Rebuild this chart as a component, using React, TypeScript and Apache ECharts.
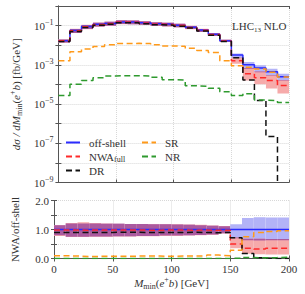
import React, { useEffect, useRef } from "react";
import * as echarts from "echarts";

// ---- data (10 GeV bins, left edges) ----
const binEdges = [0, 10, 20, 30, 40, 50, 60, 70, 80, 90, 100, 110, 120, 130, 140, 150, 160, 170, 180, 190];
const binWidth = 10;
const offShell = [0.017, 0.056, 0.089, 0.117, 0.13, 0.155, 0.153, 0.14, 0.125, 0.117, 0.105, 0.083, 0.059, 0.036, 0.017, 0.0032, 0.001, 0.00068, 0.00045, 0.00025];
const nwaFull = [0.0167, 0.055, 0.087, 0.115, 0.128, 0.152, 0.15, 0.137, 0.122, 0.115, 0.103, 0.081, 0.058, 0.035, 0.0166, 0.0016, 0.00035, 0.00022, 0.00016, 0.000088];
const dr = [0.0153, 0.05, 0.08, 0.105, 0.117, 0.14, 0.138, 0.126, 0.112, 0.105, 0.094, 0.075, 0.053, 0.032, 0.0153, 0.0023, 0.00017, 0.000015, 0.00000022, 1e-12];
const sr = [0.0016, 0.0047, 0.0064, 0.0086, 0.0105, 0.0122, 0.0125, 0.0122, 0.0105, 0.0092, 0.0088, 0.0071, 0.0054, 0.0042, 0.0016, 0.0009, 0.00075, 0.00061, 0.00042, 0.00024];
const nr = [2.7e-5, 1.02e-4, 1.6e-4, 2.2e-4, 2.7e-4, 2.8e-4, 2.8e-4, 2.7e-4, 2.3e-4, 1.75e-4, 1.65e-4, 8.5e-5, 8.0e-5, 6.4e-5, 4.3e-5, 2.7e-5, 3.4e-5, 1.6e-5, 1.5e-5, 1.2e-5];
// uncertainty bands, as ratio to off-shell
const offBandLo = [0.8, 0.75, 0.75, 0.76, 0.76, 0.77, 0.77, 0.78, 0.78, 0.79, 0.79, 0.8, 0.81, 0.83, 0.87, 0.7, 0.63, 0.62, 0.63, 0.63];
const offBandHi = [1.15, 1.21, 1.21, 1.21, 1.2, 1.2, 1.19, 1.19, 1.18, 1.18, 1.17, 1.16, 1.15, 1.13, 1.11, 1.18, 1.4, 1.42, 1.41, 1.41];
const nwaBandLo = [0.78, 0.74, 0.74, 0.75, 0.75, 0.76, 0.76, 0.77, 0.77, 0.78, 0.78, 0.79, 0.8, 0.82, 0.86, 0.35, 0.16, 0.15, 0.14, 0.14];
const nwaBandHi = [1.15, 1.22, 1.25, 1.22, 1.21, 1.2, 1.19, 1.19, 1.18, 1.18, 1.18, 1.17, 1.16, 1.14, 1.12, 0.72, 0.68, 0.68, 0.67, 0.67];

const xMin = 0;
const xMax = 200;
const xInterval = 50;
const yTopMin = 1e-9;
const yTopMax = 1;
const ratioMin = 0;
const ratioMax = 2;
const ratioInterval = 0.5;

const SERIF = "'Liberation Serif', 'DejaVu Serif', serif";
const TXT = "#333";
const AX = "#555";
const GRIDC = "#d8d8d8";

const C_OFF = "#2b2bff";
const C_NWA = "#ff2a2a";
const C_DR = "#111111";
const C_SR = "#ff9a1a";
const C_NR = "#2e9a2e";
const BAND_BLUE = "#b3b3f7";
const BAND_RED = "#f6aaaa";
const BAND_MIX = "#ab5a9f";

const rich = {
  r: { fontFamily: SERIF, fontSize: 11, color: TXT, lineHeight: 15, verticalAlign: "middle" },
  i: { fontFamily: SERIF, fontSize: 11, color: TXT, fontStyle: "italic", lineHeight: 15, verticalAlign: "middle" },
  sub: { fontFamily: SERIF, fontSize: 8, color: TXT, lineHeight: 9, verticalAlign: "bottom" },
  sup: { fontFamily: SERIF, fontSize: 8, color: TXT, lineHeight: 9, verticalAlign: "top" },
};

function stepData(vals: number[]) {
  const pts = binEdges.map((x, i) => [x, vals[i]]);
  pts.push([binEdges[binEdges.length - 1] + binWidth, vals[vals.length - 1]]);
  return pts;
}
function ratio(vals: number[]) {
  return vals.map((v, i) => v / offShell[i]);
}

export default function App() {
  const ref = useRef<HTMLDivElement>(null);
  useEffect(() => {
    if (!ref.current) return;
    const chart = echarts.init(ref.current, null, { renderer: "svg" });

    const bandTop = binEdges.map((x, i) => [
      x, x + binWidth,
      offShell[i] * offBandLo[i], offShell[i] * offBandHi[i],
      offShell[i] * nwaBandLo[i], offShell[i] * nwaBandHi[i],
    ]);
    const bandRatio = binEdges.map((x, i) => [x, x + binWidth, offBandLo[i], offBandHi[i], nwaBandLo[i], nwaBandHi[i]]);

    const renderBand = (params: any, api: any) => {
      const x0 = api.value(0);
      const x1 = api.value(1);
      const rect = (lo: number, hi: number, fill: string) => {
        const p0 = api.coord([x0, hi]);
        const p1 = api.coord([x1, lo]);
        return {
          type: "rect",
          shape: { x: p0[0], y: p0[1], width: p1[0] - p0[0], height: p1[1] - p0[1] },
          style: { fill },
        };
      };
      const aLo = api.value(2), aHi = api.value(3), bLo = api.value(4), bHi = api.value(5);
      const children: any[] = [rect(aLo, aHi, BAND_BLUE), rect(bLo, bHi, BAND_RED)];
      const oLo = Math.max(aLo, bLo);
      const oHi = Math.min(aHi, bHi);
      if (oHi > oLo) children.push(rect(oLo, oHi, BAND_MIX));
      return { type: "group", children };
    };

    const lineSeries = (name: string, vals: number[], color: string, dashed: boolean, xi: number, yi: number) => ({
      name,
      type: "line",
      step: "end",
      xAxisIndex: xi,
      yAxisIndex: yi,
      data: stepData(vals),
      showSymbol: false,
      symbol: "none",
      clip: true,
      lineStyle: { color, width: 1.5, type: dashed ? [6, 3.5] : "solid" },
      itemStyle: { color },
      z: 3,
    });

    const splitDotted = { show: true, lineStyle: { color: GRIDC, type: "dotted", width: 1 } };
    const axLine = { show: true, lineStyle: { color: AX, width: 1 } };
    const tick = { show: true, inside: true, length: 3, lineStyle: { color: AX } };

    const legendText = {
      fontFamily: SERIF,
      fontSize: 11,
      color: TXT,
      lineHeight: 13,
      padding: [0, 0, 0, 4],
      rich: {
        n: { fontFamily: SERIF, fontSize: 11, color: TXT, lineHeight: 13, verticalAlign: "middle" },
        sub: { fontFamily: SERIF, fontSize: 8, color: TXT, lineHeight: 8, verticalAlign: "bottom" },
      },
    };
    const legendFmt = (name: string) => (name === "NWA" ? "{n|NWA}{sub|full}" : name);
    const legendCommon = {
      orient: "vertical", top: 136,
      itemWidth: 14, itemHeight: 8, itemGap: 1, padding: 0,
      itemStyle: { opacity: 0, borderWidth: 0 },
      textStyle: legendText, formatter: legendFmt, selectedMode: false,
    };

    chart.setOption({
      animation: false,
      grid: [
        { left: 54, top: 6, width: 235, height: 176.5 },
        { left: 54, top: 200.5, width: 235, height: 58 },
      ],
      xAxis: [
        {
          gridIndex: 0, type: "value", min: xMin, max: xMax, interval: xInterval,
          axisLine: axLine, axisTick: tick, axisLabel: { show: false }, splitLine: splitDotted,
        },
        {
          gridIndex: 1, type: "value", min: xMin, max: xMax, interval: xInterval,
          axisLine: axLine, axisTick: tick, splitLine: splitDotted,
          axisLabel: { show: true, margin: 5, fontFamily: SERIF, fontSize: 11, color: TXT },
          name: "{i|M}{sub|min}{r|(}{i|e}{sup|+}{i|b}{r|) [GeV]}",
          nameLocation: "middle",
          nameGap: 17,
          nameTextStyle: { rich },
        },
        {
          gridIndex: 0, type: "value", position: "top", min: xMin, max: xMax, interval: xInterval,
          axisLine: axLine, axisTick: tick, axisLabel: { show: false }, splitLine: { show: false },
        },
        {
          gridIndex: 1, type: "value", position: "top", min: xMin, max: xMax, interval: xInterval,
          axisLine: axLine, axisTick: tick, axisLabel: { show: false }, splitLine: { show: false },
        },
      ],
      yAxis: [
        {
          gridIndex: 0, type: "log", logBase: 10, min: yTopMin, max: yTopMax, interval: 1,
          axisLine: axLine, axisTick: tick, splitLine: splitDotted, minorTick: { show: false },
          axisLabel: {
            show: true, margin: 5,
            formatter: (v: number) => {
              const e = Math.round(Math.log10(v));
              if (e % 2 === 0) return "";
              return "{b|10}{s|\u2212" + Math.abs(e) + "}";
            },
            rich: {
              b: { fontFamily: SERIF, fontSize: 11, color: TXT, lineHeight: 15, verticalAlign: "middle" },
              s: { fontFamily: SERIF, fontSize: 8, color: TXT, lineHeight: 9, verticalAlign: "top" },
            },
          },
          name: "{i|d\u03c3 / dM}{sub|min}{r|(}{i|e}{sup|+}{i|b}{r|) [fb/GeV]}",
          nameLocation: "middle",
          nameRotate: 90,
          nameGap: 34,
          nameTextStyle: { rich },
        },
        {
          gridIndex: 1, type: "value", min: ratioMin, max: ratioMax, interval: ratioInterval,
          axisLine: axLine, axisTick: tick, splitLine: splitDotted,
          axisLabel: {
            show: true, margin: 5, fontFamily: SERIF, fontSize: 11, color: TXT,
            formatter: (v: number) => (Math.abs(v - Math.round(v)) < 1e-6 ? v.toFixed(1) : ""),
          },
          name: "NWA/off-shell",
          nameLocation: "middle",
          nameRotate: 90,
          nameGap: 34,
          nameTextStyle: { fontFamily: SERIF, fontSize: 11, color: TXT },
        },
        {
          gridIndex: 0, type: "log", logBase: 10, min: yTopMin, max: yTopMax, interval: 1, position: "right",
          axisLine: axLine, axisTick: tick, axisLabel: { show: false }, splitLine: { show: false },
        },
        {
          gridIndex: 1, type: "value", min: ratioMin, max: ratioMax, interval: ratioInterval, position: "right",
          axisLine: axLine, axisTick: tick, axisLabel: { show: false }, splitLine: { show: false },
        },
      ],
      legend: [
        { ...legendCommon, data: ["off-shell", "NWA", "DR"], left: 65 },
        { ...legendCommon, data: ["SR", "NR"], left: 141 },
      ],
      graphic: [
        {
          type: "text", left: 232, top: 20,
          style: {
            text: "{r|LHC}{sub|13}{r| NLO}",
            rich: {
              r: { fontFamily: SERIF, fontSize: 11, fill: TXT, lineHeight: 15, verticalAlign: "middle" },
              sub: { fontFamily: SERIF, fontSize: 7, fill: TXT, lineHeight: 8, verticalAlign: "bottom" },
            },
          },
          z: 10,
        },
      ],
      series: [
        {
          name: "band-top", type: "custom", xAxisIndex: 0, yAxisIndex: 0, clip: true,
          renderItem: renderBand, data: bandTop, encode: { x: [0, 1], y: [2, 3, 4, 5] }, z: 1, silent: true,
        },
        {
          name: "band-ratio", type: "custom", xAxisIndex: 1, yAxisIndex: 1, clip: true,
          renderItem: renderBand, data: bandRatio, encode: { x: [0, 1], y: [2, 3, 4, 5] }, z: 1, silent: true,
        },
        lineSeries("off-shell", offShell, C_OFF, false, 0, 0),
        lineSeries("NWA", nwaFull, C_NWA, true, 0, 0),
        lineSeries("DR", dr, C_DR, true, 0, 0),
        lineSeries("SR", sr, C_SR, true, 0, 0),
        lineSeries("NR", nr, C_NR, true, 0, 0),
        lineSeries("off-shell", ratio(offShell), C_OFF, false, 1, 1),
        lineSeries("NWA", ratio(nwaFull), C_NWA, true, 1, 1),
        lineSeries("DR", ratio(dr), C_DR, true, 1, 1),
        lineSeries("SR", ratio(sr), C_SR, true, 1, 1),
        lineSeries("NR", ratio(nr), C_NR, true, 1, 1),
      ],
    });
    return () => chart.dispose();
  }, []);
  return <div ref={ref} style={{ position: "absolute", left: 0, top: 0, width: 305, height: 294 }} />;
}
